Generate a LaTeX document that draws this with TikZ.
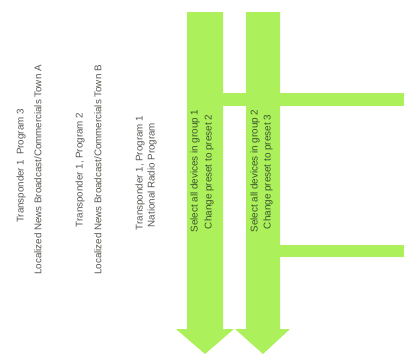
\documentclass[tikz,border=0pt]{standalone}
\usepackage{fontspec}
\setmainfont{Liberation Sans}
\definecolor{limefill}{RGB}{172,240,92}
\definecolor{labelgray}{RGB}{85,88,80}
\definecolor{arrowtext}{RGB}{58,85,42}
\begin{document}
\begin{tikzpicture}[x=1bp,y=-1bp,
  lbl/.style={rotate=90, font=\fontsize{9.8}{12}\selectfont, text=labelgray, inner sep=0pt},
  atxt/.style={rotate=90, font=\fontsize{9.9}{12}\selectfont, text=arrowtext, inner sep=0pt},
  band/.style={fill=limefill}]
\useasboundingbox (0,0) rectangle (404,354);
% arrows
\fill[band] (187,12) -- (223,12) -- (223,329) -- (234,329) -- (205,354) -- (176,329) -- (187,329) -- cycle;
\fill[band] (246,12) -- (280,12) -- (280,329) -- (290,329) -- (263,354) -- (235,329) -- (246,329) -- cycle;
\fill[band] (223,93) rectangle (404,106);
\fill[band] (280,245) rectangle (404,257);
% left labels
\node[lbl] (t1) at (21,166) {Transponder 1\enspace Program 3};
\node[lbl] (t2) at (38,170) {Localized News Broadcast/Commercials Town A};
\node[lbl] (t3) at (80,170) {Transponder 1, Program 2};
\node[lbl] (t4) at (98,170) {Localized News Broadcast/Commercials Town B};
\node[lbl] (t5) at (140,173) {Transponder 1, Program 1};
\node[lbl] (t6) at (152,175) {National Radio Program};
% arrow labels
\node[atxt] (s1) at (195,171) {Select all devices in group 1};
\node[atxt] (s2) at (209,172) {Change preset to preset 2};
\node[atxt] (s3) at (255,171) {Select all devices in group 2};
\node[atxt] (s4) at (268,172) {Change preset to preset 3};
\end{tikzpicture}
\end{document}
